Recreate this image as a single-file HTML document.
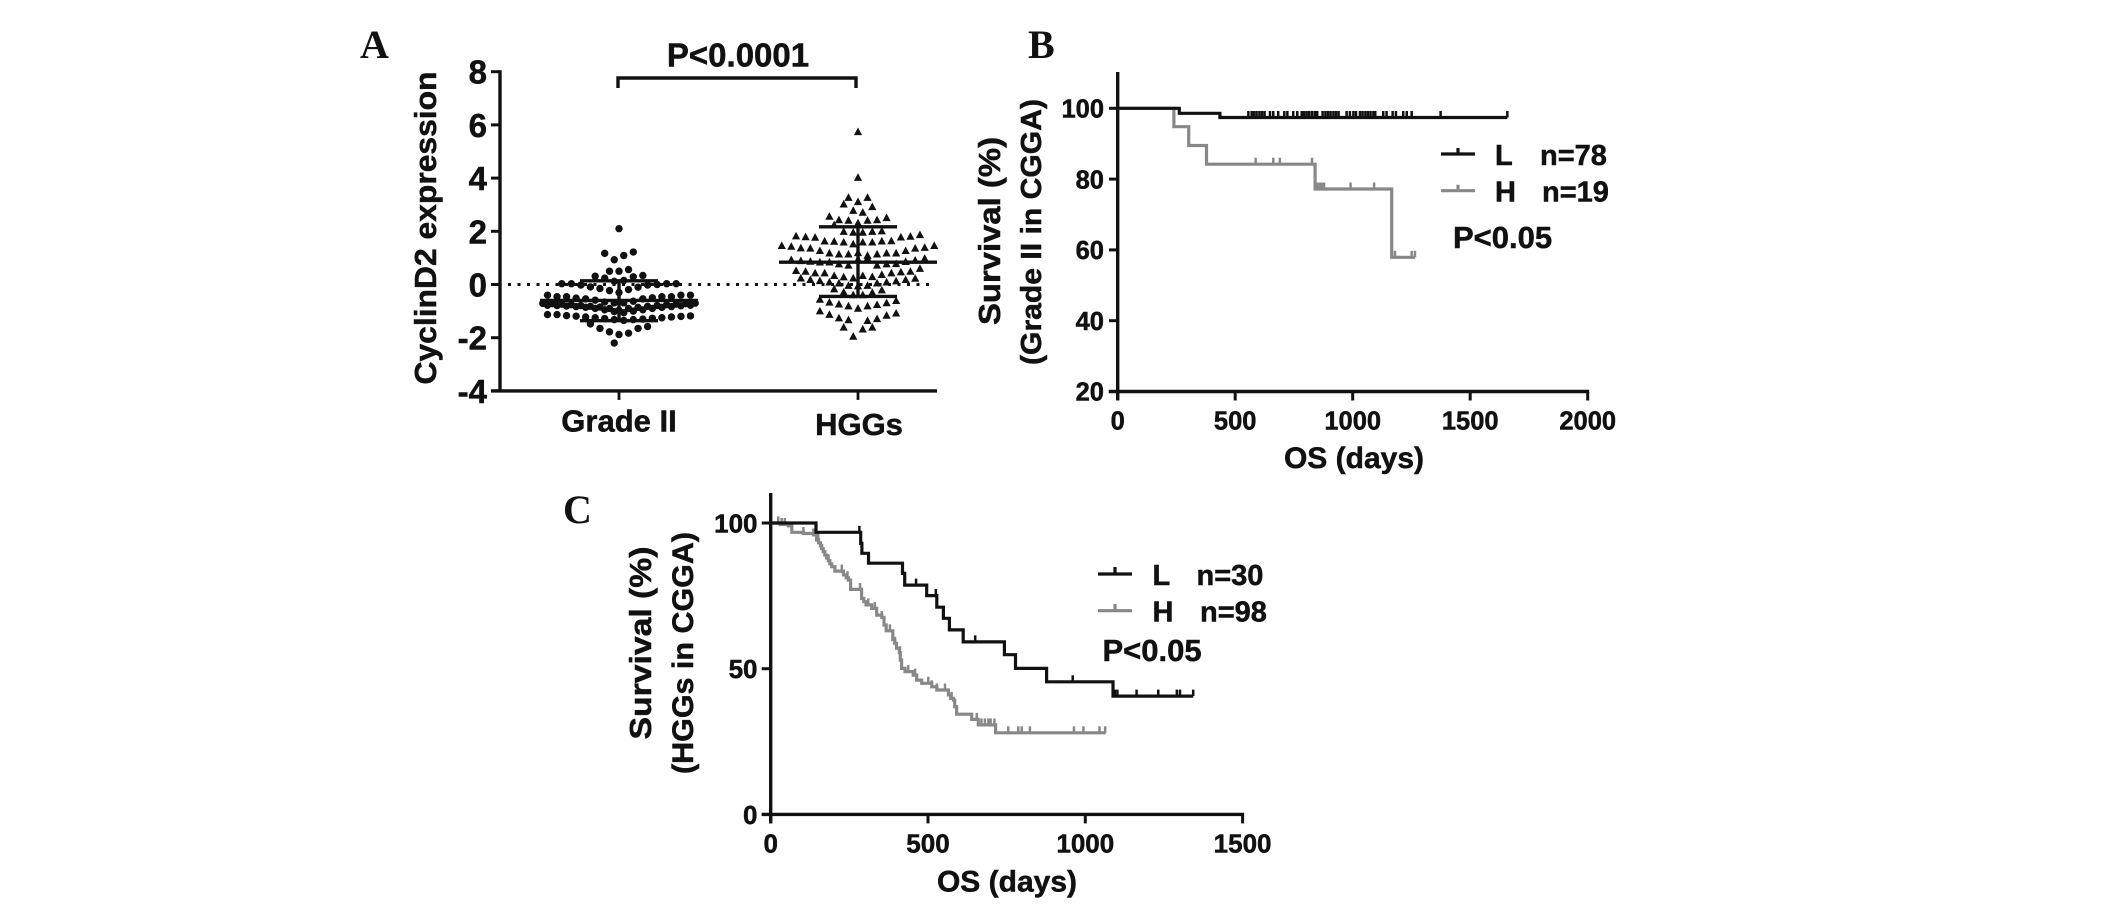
<!DOCTYPE html>
<html lang="en">
<head>
<meta charset="utf-8">
<title>CyclinD2 expression and survival</title>
<style>
html,body{margin:0;padding:0;background:#fff;}
svg{display:block;}
text{font-family:"Liberation Sans",sans-serif;font-weight:700;fill:#111;stroke:#111;stroke-width:0.5px;}
.panel-letter{font-family:"Liberation Serif",serif;font-size:40px;stroke-width:0;}
</style>
</head>
<body>
<svg id="figure" xmlns="http://www.w3.org/2000/svg" width="2126" height="906" viewBox="0 0 2126 906">
  <rect x="0" y="0" width="2126" height="906" fill="#fff"/>

  <g id="panelA">
    <text class="panel-letter" x="360" y="58">A</text>
    <text transform="translate(436 228) rotate(-90)" text-anchor="middle" font-size="31" textLength="313" lengthAdjust="spacingAndGlyphs">CyclinD2  expression</text>
    <text x="738" y="66.5" text-anchor="middle" font-size="33">P&lt;0.0001</text>
    <path d="M618 88V78H856V88" fill="none" stroke="#111" stroke-width="3.4"/>
    <text x="619" y="431.5" text-anchor="middle" font-size="31">Grade II</text>
    <text x="859" y="435" text-anchor="middle" font-size="31">HGGs</text>
  </g>

  <g id="panelB">
    <text class="panel-letter" x="1028" y="58">B</text>
    <text transform="translate(1000 231) rotate(-90)" text-anchor="middle" font-size="31" textLength="188" lengthAdjust="spacingAndGlyphs">Survival (%)</text>
    <text transform="translate(1041 232) rotate(-90)" text-anchor="middle" font-size="29" textLength="266" lengthAdjust="spacingAndGlyphs">(Grade II in CGGA)</text>
    <text x="1354" y="468" text-anchor="middle" font-size="30">OS (days)</text>
    <g>
      <path d="M1441 154H1475M1458 154V148" fill="none" stroke="#111" stroke-width="3.2"/>
      <text x="1495" y="165" font-size="29">L</text>
      <text x="1540" y="165" font-size="29">n=78</text>
    </g>
    <g>
      <path d="M1441 190.7H1475M1458 190.7V184.7" fill="none" stroke="#888" stroke-width="3.2"/>
      <text x="1495" y="201.7" font-size="29">H</text>
      <text x="1542" y="201.7" font-size="29">n=19</text>
    </g>
    <text x="1453" y="248" font-size="31">P&lt;0.05</text>
  </g>

  <g id="panelC">
    <text class="panel-letter" x="563" y="523">C</text>
    <text transform="translate(651 643) rotate(-90)" text-anchor="middle" font-size="31" textLength="193" lengthAdjust="spacingAndGlyphs">Survival (%)</text>
    <text transform="translate(693 653) rotate(-90)" text-anchor="middle" font-size="30" textLength="242" lengthAdjust="spacingAndGlyphs">(HGGs in CGGA)</text>
    <text x="1007" y="891.5" text-anchor="middle" font-size="30">OS (days)</text>
    <g>
      <path d="M1098 574H1132M1115 574V567" fill="none" stroke="#111" stroke-width="3.2"/>
      <text x="1152.5" y="585" font-size="29">L</text>
      <text x="1196.5" y="585" font-size="29">n=30</text>
    </g>
    <g>
      <path d="M1098 610.7H1132M1115 610.7V604" fill="none" stroke="#888" stroke-width="3.2"/>
      <text x="1152.5" y="621.7" font-size="29">H</text>
      <text x="1200" y="621.7" font-size="29">n=98</text>
    </g>
    <text x="1102.5" y="661" font-size="31">P&lt;0.05</text>
  </g>
</svg>

<script>
/* ---------- Panel A data: each inner array is one swarm row, read left to right ---------- */
const aCategories = ['Grade II', 'HGGs'];
const aTicks = [8, 6, 4, 2, 0, -2, -4];
const aMeans = [-0.6, 0.84];
const aUpper = [0.14, 2.17];
const aLower = [-1.36, -0.45];
const gradeIIRows = [
  [2.1],
  [1.17, 0.93, 1.09, 1.22],
  [0.5, 0.5, 0.56],
  [0.31, 0.24, 0.12, 0.15, 0.29, 0.34],
  [0.03, 0.03, -0.02, -0.09, -0.15, -0.23, -0.3, -0.19, -0.1, -0.02, 0, 0.03, 0.03],
  [-0.4, -0.46, -0.46, -0.51, -0.54, -0.59, -0.66, -0.69, -0.69, -0.63, -0.54, -0.5, -0.46, -0.46, -0.4, -0.4],
  [-0.71, -0.72, -0.74, -0.76, -0.79, -0.82, -0.85, -0.9, -0.97, -0.9, -0.86, -0.82, -0.79, -0.76, -0.74, -0.72, -0.7],
  [-0.78, -0.79, -0.81, -0.83, -0.86, -0.9, -0.95, -1.02, -1.06, -1, -0.95, -0.9, -0.86, -0.83, -0.8, -0.78],
  [-1.13, -1.13, -1.17, -1.19, -1.22, -1.25, -1.28, -1.32, -1.35, -1.32, -1.3, -1.27, -1.25, -1.22, -1.2, -1.18],
  [-1.48, -1.65, -1.78, -1.88, -1.83, -1.65, -1.58],
  [-2.2, null]
];
const hggRows = [
  [5.75],
  [4.03],
  [3.28, 3.12, 3.28],
  [3.03, 2.79, 2.72, 2.93],
  [2.57, 2.44, 2.42, 2.32, 2.42, 2.44, 2.52],
  [2.25, 2, 1.97, 1.97, 2, 2.02],
  [1.83, 1.8, 1.78, 1.64, 1.63, 1.6, 1.53, 1.6, 1.6, 1.64, 1.65, 1.79, 1.82, 1.88],
  [1.47, 1.44, 1.38, 1.37, 1.28, 1.19, 1.15, 1.15, 1.2, 1.1, 1.15, 1.19, 1.19, 1.28, 1.37, 1.4, 1.47],
  [0.94, 0.9, 0.88, 0.85, 0.85, 0.78, 0.73, 0.96, 1, 0.73, 0.78, 0.79, 0.87, 0.92, 0.99],
  [0.53, 0.5, 0.44, 0.44, 0.34, 0.29, 0.25, 0.34, 0.3, 0.38, 0.44, 0.48, 0.5, 0.61],
  [0.25, 0.19, 0.15, 0.1, 0.06, -0.03, -0.05, -0.03, 0.06, 0.1, 0.14, 0.19, 0.24],
  [-0.16, -0.28, -0.38, -0.38, -0.29, -0.2],
  [-0.55, -0.66, -0.73, -0.8, -0.89, -0.8, -0.75, -0.68, -0.6],
  [-0.99, -1.12, -1.25, -1.32, null, -1.35, -1.28, -1.15, -1.07],
  [-1.6, null, -1.67, -1.6],
  [-1.94, null]
];

/* ---------- Panel B data ---------- */
const bXTicks = [0, 500, 1000, 1500, 2000];
const bYTicks = [100, 80, 60, 40, 20];
const bLowTimes = [262, 435];
const bLowSurvival = [98.6, 97.4];
const bLowEnd = 1658;
const bLowCensored = [556, 570, 580, 591, 603, 614, 625, 648, 662, 683, 709, 722, 747, 764, 783, 793, 804, 815, 827, 839, 849, 872, 884, 895, 906, 918, 929, 940, 974, 988, 1003, 1014, 1031, 1042, 1054, 1065, 1076, 1088, 1096, 1130, 1144, 1170, 1184, 1215, 1230, 1251, 1374, 1658];
const bHighTimes = [239, 302, 378, 840, 1166];
const bHighSurvival = [94.8, 89.5, 84.2, 77.2, 57.9];
const bHighEnd = 1265;
const bHighCensored = [587, 662, 690, 827, 847, 858, 868, 878, 991, 1091, 1180, 1251, 1265];

/* ---------- Panel C data ---------- */
const cXTicks = [0, 500, 1000, 1500];
const cYTicks = [100, 50, 0];
const cLowTimes = [144, 286, 290, 311, 419, 426, 496, 528, 549, 568, 612, 743, 778, 877, 1088];
const cLowSurvival = [96.8, 93, 89.6, 86.2, 82.7, 78.7, 75.1, 71.1, 67.3, 63.3, 59.2, 54.8, 50.1, 45.5, 40.6];
const cLowEnd = 1343;
const cLowCensored = [282, 462, 525, 650, 960, 1094, 1102, 1163, 1232, 1291, 1301, 1343];
const cHighTimes = [30, 56, 67, 104, 136, 146, 152, 158, 162, 167, 172, 178, 183, 188, 194, 204, 231, 240, 247, 254, 289, 296, 303, 321, 337, 353, 360, 367, 388, 394, 400, 409, 412, 416, 427, 453, 464, 480, 512, 528, 565, 572, 581, 585, 591, 639, 660, 715];
const cHighSurvival = [99.5, 99, 96.8, 96.4, 95.9, 94.2, 93.2, 92.2, 91.2, 90.2, 89, 88, 87.1, 86, 85, 83.5, 82.2, 81.2, 80.4, 77.2, 74.1, 73, 71.9, 70.7, 68.4, 67.6, 65, 63, 60, 58.7, 57, 55.5, 53, 50.1, 49, 47.8, 46.1, 45, 43.8, 42.7, 41, 39.8, 39.2, 37, 34.4, 32.6, 30.7, 28];
const cHighEnd = 1065;
const cHighCensored = [24, 35, 45, 104, 136, 151, 183, 226, 244, 284, 310, 331, 353, 379, 395, 411, 437, 459, 501, 512, 528, 554, 575, 655, 670, 681, 692, 699, 711, 755, 787, 798, 824, 964, 994, 1045, 1063];

/* ---------- Axis functions ---------- */
const aCenters = [619, 858];
const xA = i => aCenters[i];
const yA = v => 284.5 - v * 26.6;
const xB = d => 1117.7 + d * 0.235;
const yB = p => 108.3 + (100 - p) * 3.54;
const xC = d => 770.7 + d * 0.3146;
const yC = p => 814.4 - p * 2.914;

const SVG_NS = 'http://www.w3.org/2000/svg';
const BLACK = '#111';
const GRAY = '#888';
function make(tag, parent, props) {
  const node = document.createElementNS(SVG_NS, tag);
  for (const k in props) node.setAttribute(k, props[k]);
  parent.appendChild(node);
  return node;
}
function line(parent, x1, y1, x2, y2, color, width) {
  return make('line', parent, {x1, y1, x2, y2, stroke: color, 'stroke-width': width});
}
function label(parent, x, y, text, size, anchor) {
  const t = make('text', parent, {x, y, 'font-size': size, 'text-anchor': anchor});
  t.textContent = text;
  return t;
}

/* ---------- Shared axis builder for the survival panels ---------- */
function drawSurvivalAxes(parent, prefix, xScale, yScale, xTicks, yTicks, yTop, yBase, tickLeft, tickDown, xLabelY, yLabelRight, size) {
  const yAxis = line(parent, xScale(0), yTop, xScale(0), yBase + tickDown, BLACK, 3.4);
  
  
  const xAxis = line(parent, xScale(0) - 9, yBase, xScale(xTicks[xTicks.length - 1]) + 1.5, yBase, BLACK, 3.4);
  
  
  xTicks.forEach(v => {
    const tick = line(parent, xScale(v), yBase, xScale(v), yBase + tickDown, BLACK, 3);
    
    
    const text = label(parent, xScale(v), xLabelY, String(v), size, 'middle');
    
    
  });
  yTicks.forEach(v => {
    const tick = line(parent, tickLeft, yScale(v), xScale(0), yScale(v), BLACK, 3);
    
    
    const text = label(parent, yLabelRight, yScale(v) + size * 0.36, String(v), size, 'end');
    
    
  });
}

function levelAt(times, survival, t) {
  let level = 100;
  times.forEach((time, i) => { if (time <= t) level = survival[i]; });
  return level;
}
function drawCurve(parent, name, xScale, yScale, times, survival, end, censored, color) {
  let d = 'M' + xScale(0) + ' ' + yScale(100);
  times.forEach((t, i) => {
    d += 'H' + xScale(t).toFixed(1) + 'V' + yScale(survival[i]).toFixed(1);
  });
  d += 'H' + xScale(end).toFixed(1);
  const path = make('path', parent, {d, fill: 'none', stroke: color, 'stroke-width': 3.2});
  
  
  censored.forEach(t => {
    const y = yScale(levelAt(times, survival, t));
    const mark = line(parent, xScale(t), y, xScale(t), y - 6.5, color, 2.5);
    
    
  });
}

/* ---------- Panel A ---------- */
const panelA = document.getElementById('panelA');
const aYAxis = line(panelA, 500, yA(8) - 1.5, 500, yA(-4) + 1.5, BLACK, 3.4);


const aXAxis = line(panelA, 491, yA(-4), 937, yA(-4), BLACK, 3.4);


aTicks.forEach(v => {
  const tick = line(panelA, 491, yA(v), 500, yA(v), BLACK, 3);
  
  
  const text = label(panelA, 487, yA(v) + 12, String(v), 33, 'end');
  
  
});
aCategories.forEach((c, i) => {
  const tick = line(panelA, xA(i), yA(-4), xA(i), yA(-4) + 9, BLACK, 2.8);
  
  
});
const zeroLine = line(panelA, 508, yA(0), 932, yA(0), BLACK, 3);
zeroLine.setAttribute('stroke-dasharray', '3 6.5');



const SLOT = 9.53;
gradeIIRows.forEach(row => {
  row.forEach((v, i) => {
    if (v === null) return;
    const x = xA(0) + (i - (row.length - 1) / 2) * SLOT;
    const dot = make('circle', panelA, {cx: x, cy: yA(v), r: 3.7, fill: BLACK});
    
    
  });
});
hggRows.forEach(row => {
  row.forEach((v, i) => {
    if (v === null) return;
    const x = xA(1) + (i - (row.length - 1) / 2) * SLOT;
    const y = yA(v);
    const tri = make('path', panelA, {d: 'M' + x + ' ' + (y - 4) + 'l4.1 7.6h-8.2z', fill: BLACK});
    
    
  });
});
aCategories.forEach((c, i) => {
  const mean = line(panelA, xA(i) - 79, yA(aMeans[i]), xA(i) + 79, yA(aMeans[i]), BLACK, 3.4);
  
  
  const whisker = line(panelA, xA(i), yA(aUpper[i]), xA(i), yA(aLower[i]), BLACK, 3.4);
  
  
  const capUp = line(panelA, xA(i) - 39, yA(aUpper[i]), xA(i) + 39, yA(aUpper[i]), BLACK, 3.4);
  
  
  const capDown = line(panelA, xA(i) - 39, yA(aLower[i]), xA(i) + 39, yA(aLower[i]), BLACK, 3.4);
  
  
});

/* ---------- Panel B ---------- */
const panelB = document.getElementById('panelB');
drawSurvivalAxes(panelB, 'b', xB, yB, bXTicks, bYTicks, 72, yB(20), 1109, 9, 429.3, 1104, 25.5);
drawCurve(panelB, 'b-high', xB, yB, bHighTimes, bHighSurvival, bHighEnd, bHighCensored, GRAY);
drawCurve(panelB, 'b-low', xB, yB, bLowTimes, bLowSurvival, bLowEnd, bLowCensored, BLACK);

/* ---------- Panel C ---------- */
const panelC = document.getElementById('panelC');
drawSurvivalAxes(panelC, 'c', xC, yC, cXTicks, cYTicks, 493, yC(0), 761.7, 9, 852.7, 757.5, 26);
drawCurve(panelC, 'c-high', xC, yC, cHighTimes, cHighSurvival, cHighEnd, cHighCensored, GRAY);
drawCurve(panelC, 'c-low', xC, yC, cLowTimes, cLowSurvival, cLowEnd, cLowCensored, BLACK);
</script>
</body>
</html>
